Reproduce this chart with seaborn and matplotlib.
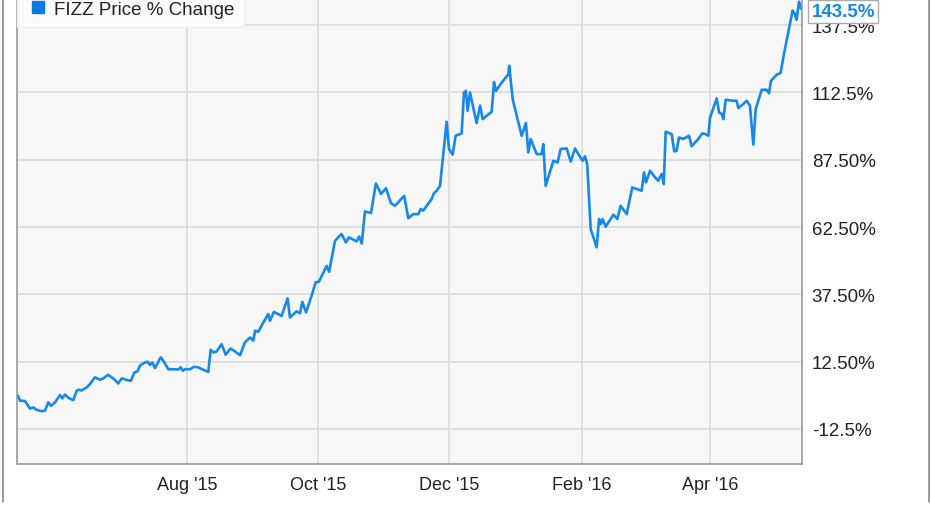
import pandas as pd
import numpy as np
import matplotlib
matplotlib.use("Agg")
import matplotlib.pyplot as plt
import matplotlib.dates as mdates
from matplotlib.lines import Line2D
import seaborn as sns

# Data: days after 1 Aug 2015 and FIZZ price % change
start = pd.Timestamp("2015-08-01")
day_offset = [
    -79.1, -78.0, -75.7, -73.4, -71.8, -70.3, -67.9, -66.4, -64.9, -63.6,
    -61.7, -59.4, -58.3, -57.1, -55.5, -53.2, -51.6, -50.5, -49.3, -46.9,
    -45.4, -43.1, -40.7, -39.2, -36.9, -35.3, -33.7, -32.2, -30.6, -28.3,
    -26.3, -24.7, -23.1, -22.1, -20.5, -18.5, -17.4, -16.3, -15.1, -12.4,
    -10.9, -8.9, -6.5, -4.2, -3.1, -2.1, -1.1, 1.3, 3.1, 5.1,
    7.5, 9.8, 10.9, 12.3, 13.7, 16.0, 17.9, 20.2, 22.3, 24.6,
    26.9, 29.3, 30.8, 31.6, 33.1, 35.5, 37.8, 38.6, 40.4, 44.0,
    46.8, 47.9, 51.0, 52.6, 53.7, 55.4, 58.0, 59.9, 61.4, 65.0,
    66.2, 68.9, 72.0, 74.0, 75.4, 79.0, 80.2, 81.4, 82.9, 85.7,
    88.0, 90.4, 92.7, 95.0, 96.9, 101.2, 103.1, 105.4, 107.8, 108.9,
    110.1, 111.7, 114.0, 115.1, 116.4, 117.9, 121.0, 122.1, 123.8, 125.2,
    128.0, 129.1, 130.0, 130.8, 131.9, 133.4, 135.0, 136.6, 137.8, 142.0,
    143.1, 144.0, 145.9, 149.8, 150.2, 151.8, 156.0, 158.0, 159.1, 160.2,
    163.0, 165.3, 166.1, 167.2, 170.8, 172.8, 174.2, 177.0, 178.9, 180.9,
    182.9, 184.5, 185.5, 186.6, 188.2, 191.0, 192.1, 193.0, 193.8, 195.2,
    198.8, 200.6, 202.2, 205.0, 207.6, 212.0, 213.1, 214.0, 215.9, 218.2,
    219.7, 221.3, 222.3, 223.2, 226.0, 227.2, 228.3, 229.4, 231.4, 234.1,
    235.3, 238.4, 240.3, 241.9, 243.1, 243.9, 247.0, 248.1, 249.3, 250.1,
    251.2, 254.7, 256.3, 257.1, 259.4, 261.0, 262.5, 264.1, 265.2, 268.0,
    270.3, 271.4, 272.3, 275.0, 276.8, 278.4, 282.4, 283.5, 284.3, 285.4,
    286.4,
]
pct_change = [
    0.0, -2.0, -2.1, -4.9, -4.5, -5.4, -5.9, -5.7, -2.6, -3.9,
    -2.6, 0.1, -1.1, 0.3, -0.9, -1.8, 1.7, 2.1, 1.8, 3.0,
    4.2, 6.7, 5.8, 6.3, 7.6, 6.7, 5.7, 4.4, 6.3, 5.7,
    5.4, 8.5, 9.0, 11.0, 11.9, 12.5, 11.3, 12.2, 10.1, 14.1,
    12.5, 9.7, 9.7, 9.6, 10.4, 9.1, 9.7, 9.7, 10.6, 10.4,
    9.5, 8.7, 16.9, 15.9, 16.3, 19.0, 15.1, 17.4, 16.3, 14.9,
    19.7, 21.5, 20.3, 24.0, 23.6, 27.1, 30.2, 27.7, 31.0, 29.5,
    36.0, 28.9, 31.2, 30.5, 34.7, 30.8, 37.0, 42.0, 42.2, 48.1,
    45.9, 57.4, 59.9, 56.8, 58.7, 57.2, 59.0, 56.4, 68.3, 67.7,
    78.7, 74.8, 76.9, 71.4, 70.4, 74.1, 65.8, 67.3, 67.3, 69.2,
    68.6, 70.4, 72.9, 75.1, 76.0, 77.8, 101.6, 91.5, 89.4, 96.4,
    97.3, 112.5, 113.1, 105.7, 112.5, 107.0, 101.1, 107.6, 102.6, 105.3,
    116.3, 113.1, 115.3, 119.3, 122.4, 110.0, 96.4, 101.1, 90.2, 95.2,
    89.6, 89.6, 93.3, 77.8, 87.1, 86.5, 91.5, 91.7, 86.8, 91.7,
    89.0, 87.1, 88.8, 85.9, 61.8, 55.0, 65.5, 63.6, 65.5, 62.6,
    67.1, 65.5, 70.4, 67.3, 77.2, 76.0, 82.8, 79.1, 83.4, 81.0,
    79.7, 82.2, 78.5, 97.9, 97.0, 90.6, 90.8, 95.8, 95.2, 96.4,
    92.5, 95.2, 97.3, 97.0, 96.4, 103.2, 110.3, 105.1, 104.5, 102.6,
    109.8, 109.4, 109.4, 106.7, 108.2, 109.4, 107.6, 93.1, 106.3, 113.5,
    113.5, 112.2, 116.8, 119.1, 119.7, 126.8, 142.9, 141.6, 139.5, 146.2,
    143.5,
]
x_ticks = ["2015-08-01", "2015-10-01", "2015-12-01", "2016-02-01", "2016-04-01"]
x_labels = ["Aug '15", "Oct '15", "Dec '15", "Feb '16", "Apr '16"]
y_ticks = [-12.5, 12.5, 37.5, 62.5, 87.5, 112.5, 137.5]
y_labels = ["-12.5%", "12.50%", "37.50%", "62.50%", "87.50%", "112.5%", "137.5%"]
series_name = "FIZZ Price % Change"
last_label = "143.5%"

df = pd.DataFrame({
    "date": start + pd.to_timedelta(day_offset, unit="D"),
    "pct": pct_change,
})

blue = "#1689e8"

sns.set_theme(style="whitegrid")
plt.rcParams["font.family"] = ["Liberation Sans", "DejaVu Sans"]

fig = plt.figure(figsize=(9.31, 5.06), dpi=100)
ax = fig.add_axes([17 / 931, 1 - 465 / 506, 785 / 931, 465 / 506])
ax.set_facecolor("#f7f7f7")

sns.lineplot(data=df, x="date", y="pct", ax=ax, color=blue, linewidth=1.9,
             estimator=None, sort=False)

ax.set_xlim(start + pd.Timedelta(days=-79.45), start + pd.Timedelta(days=286.8))
ax.set_ylim(-25.5, 147.2)

ax.set_xticks(pd.to_datetime(x_ticks))
ax.set_xticklabels(x_labels, fontsize=13, color="#222222")
ax.set_yticks(y_ticks)
ax.set_yticklabels(y_labels, fontsize=13.5, color="#222222")
ax.yaxis.tick_right()
ax.tick_params(axis="both", length=0)
ax.tick_params(axis="y", pad=7)
ax.tick_params(axis="x", pad=9)
ax.set_xlabel("")
ax.set_ylabel("")
ax.grid(True, color="#dddddd", linewidth=1.3)

for side in ["left", "bottom", "right"]:
    ax.spines[side].set_visible(True)
    ax.spines[side].set_color("#999999")
    ax.spines[side].set_linewidth(1.2)
ax.spines["top"].set_visible(False)

handle = Line2D([], [], marker="s", linestyle="", color="#0a7ae6", markersize=9)
leg = ax.legend([handle], [series_name], loc="upper left", bbox_to_anchor=(0, 1.016),
                frameon=True, fancybox=False, borderaxespad=0, fontsize=13.5,
                handlelength=1.2, handletextpad=0.3, borderpad=0.5)
leg.get_frame().set_facecolor("#fbfbfb")
leg.get_frame().set_edgecolor("#eeeeee")
leg.get_frame().set_alpha(1)
for t in leg.get_texts():
    t.set_color("#222222")

ax.text(1.012, 142.6, last_label, transform=ax.get_yaxis_transform(),
        ha="left", va="center", fontsize=13.5, fontweight="bold", color=blue,
        bbox=dict(boxstyle="square,pad=0.18", facecolor="white",
                  edgecolor="#aaaaaa", linewidth=1), zorder=10, clip_on=False)

# outer frame lines of the image
fig.add_artist(Line2D([2.5 / 931, 2.5 / 931], [0.006, 1], transform=fig.transFigure,
                      color="#888888", linewidth=1.2))
fig.add_artist(Line2D([928.5 / 931, 928.5 / 931], [0.006, 1], transform=fig.transFigure,
                      color="#888888", linewidth=1.2))

fig.savefig("out.png", dpi=100)
